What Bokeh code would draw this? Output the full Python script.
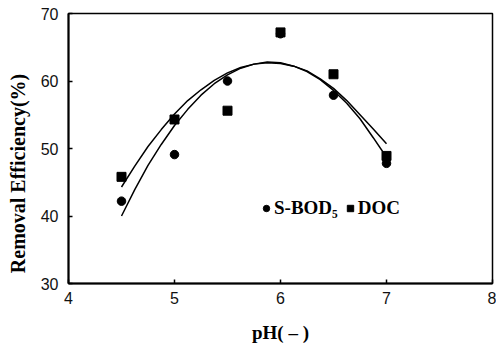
from bokeh.plotting import figure
from bokeh.models import Range1d, FixedTicker, Legend, LegendItem
from bokeh.embed import file_html
from bokeh.resources import INLINE

# measured points
ph = [4.5, 5.0, 5.5, 6.0, 6.5, 7.0]
sbod5 = [42.2, 49.1, 60.0, 67.0, 57.9, 47.8]
doc = [45.8, 54.3, 55.6, 67.2, 61.0, 48.9]

# fitted curves
curve_ph = [4.5, 4.625, 4.75, 4.875, 5.0, 5.125, 5.25, 5.375, 5.5, 5.625, 5.75,
            5.875, 6.0, 6.125, 6.25, 6.375, 6.5, 6.625, 6.75, 6.875, 7.0]
curve_a = [40.0, 43.9, 47.5, 50.6, 53.4, 55.8, 57.9, 59.6, 60.9, 61.9, 62.5,
           62.8, 62.7, 62.2, 61.4, 60.2, 58.6, 56.7, 54.4, 51.6, 48.7]
curve_b = [44.3, 47.4, 50.3, 52.8, 55.1, 57.1, 58.7, 60.1, 61.2, 62.0, 62.5,
           62.7, 62.6, 62.2, 61.5, 60.3, 58.9, 57.1, 55.0, 52.9, 50.7]

x_ticks = [4, 5, 6, 7, 8]
y_ticks = [30, 40, 50, 60, 70]

p = figure(width=496, height=347, output_backend="svg", toolbar_location=None,
           x_range=Range1d(4, 8), y_range=Range1d(30, 70),
           min_border_left=68, min_border_right=4, min_border_top=13,
           min_border_bottom=64, background_fill_color="white",
           border_fill_color="white")

p.xgrid.visible = False
p.ygrid.visible = False
p.outline_line_color = "black"
p.outline_line_width = 1.5

for ax in (p.xaxis[0], p.yaxis[0]):
    ax.axis_line_width = 2
    ax.axis_line_color = "black"
    ax.major_tick_in = 4
    ax.major_tick_out = 0
    ax.minor_tick_in = 0
    ax.minor_tick_out = 0
    ax.major_tick_line_width = 1.5
    ax.major_label_text_font = "Liberation Sans"
    ax.major_label_text_font_size = "16px"
    ax.major_label_text_color = "#111111"
    ax.axis_label_text_font = "Liberation Serif"
    ax.axis_label_text_font_style = "bold"
    ax.axis_label_text_font_size = "19px"
    ax.axis_label_text_color = "black"

p.xaxis.ticker = FixedTicker(ticks=x_ticks)
p.yaxis.ticker = FixedTicker(ticks=y_ticks)
p.xaxis.axis_label = "pH( \u2013 )"
p.yaxis.axis_label = "Removal Efficiency(%)" + "\u00a0" * 10
p.yaxis.axis_label_text_font_size = "20px"
p.xaxis.major_label_standoff = 8
p.xaxis.axis_label_standoff = 15
p.yaxis.major_label_standoff = 10
p.yaxis.axis_label_standoff = 9

p.line(curve_ph, curve_a, line_color="black", line_width=1.5)
p.line(curve_ph, curve_b, line_color="black", line_width=1.5)

r_c = p.scatter(ph, sbod5, marker="circle", size=8.5, fill_color="black", line_color="black")
r_s = p.scatter(ph, doc, marker="square", size=9, fill_color="black", line_color="black")

legend = Legend(items=[LegendItem(label="S-BOD\u2085", renderers=[r_c]),
                       LegendItem(label="DOC", renderers=[r_s])],
                orientation="horizontal", location=(190, 64),
                glyph_width=16, glyph_height=16, label_standoff=0, spacing=4,
                padding=0, margin=0, border_line_color=None,
                background_fill_alpha=0,
                label_text_font="Liberation Serif", label_text_font_style="bold",
                label_text_font_size="19px", label_text_color="black")
p.add_layout(legend, "center")

open("out.html", "w").write(file_html(p, INLINE))
